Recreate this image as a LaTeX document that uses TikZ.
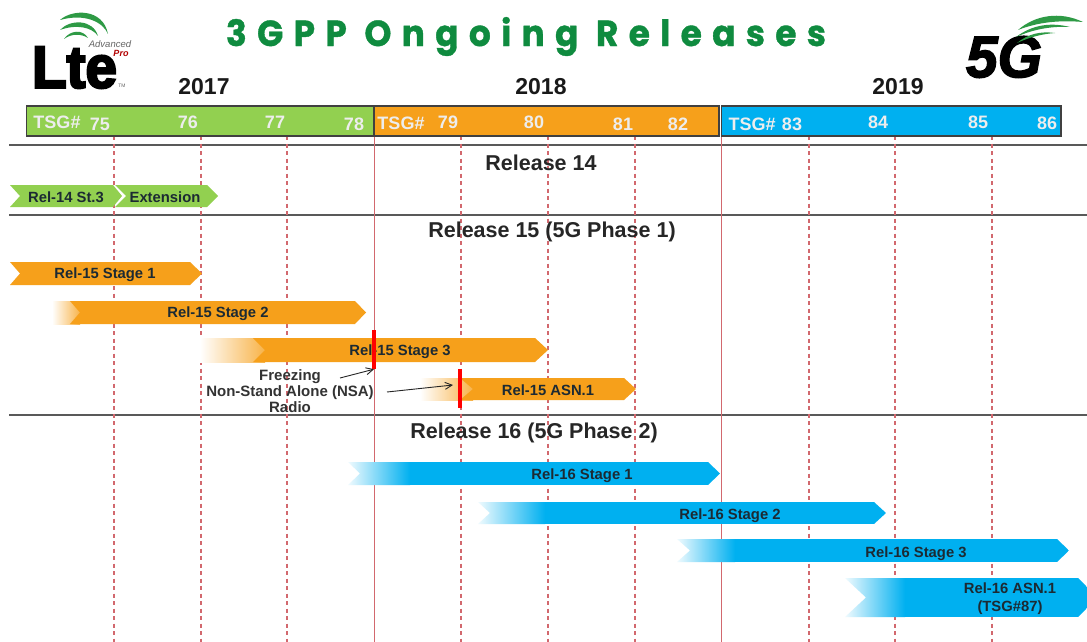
\documentclass[tikz,border=0pt]{standalone}
\usepackage{graphicx}
\usepackage{fontspec}
\setmainfont{Liberation Sans}
\newfontfamily\titlefont[LetterSpace=30,FakeBold=1]{Poppins}
\newfontfamily\logofont[FakeBold=4]{Liberation Sans}
\newfontfamily\fivegfont[FakeBold=2.5]{Liberation Sans}
\usetikzlibrary{arrows.meta}
\definecolor{cgreen}{HTML}{92D050}
\definecolor{corange}{HTML}{F6A01B}
\definecolor{cblue}{HTML}{00B0F0}
\definecolor{ctitle}{HTML}{0F8B3F}
\definecolor{clogo}{HTML}{2E9A45}
\definecolor{cline}{HTML}{D2686E}
\definecolor{ctext}{HTML}{1C2A33}
\newcommand{\chevron}[9]{%
 % #1 colour #2 fade start #3 left #4 notch #5 shoulder #6 tip #7 top #8 bottom #9 label
 \pgfmathsetmacro{\midy}{(#7+#8)/2}
 \ifdim #2pt<#3pt\relax
   \shade[left color=white,right color=#1!80!white,draw=none] (#2,#7) rectangle (#4,#8);
 \fi
 \fill[#1] (#3,#7) -- (#5,#7) -- (#6,\midy) -- (#5,#8) -- (#3,#8) -- (#4,\midy) -- cycle;
 \node[barlabel,align=center] at ({(#4+#5)/2},\midy) {#9};
}
\newcommand{\fadechevron}[8]{%
 % #1 colour #2 left #3 notch #4 gradient end #5 shoulder #6 tip #7 top #8 bottom
 \pgfmathsetmacro{\midy}{(#7+#8)/2}
 \begin{scope}
 \clip (#2,#7) -- (#5,#7) -- (#6,\midy) -- (#5,#8) -- (#2,#8) -- (#3,\midy) -- cycle;
 \shade[left color=#1!6!white,right color=#1,draw=none] (#2,#7) rectangle (#4,#8);
 \fill[#1] (#4,#7) rectangle (#6,#8);
 \end{scope}
}
\tikzset{
 yearlabel/.style={font=\bfseries\fontsize{23}{25}\selectfont,text=black!90,inner sep=0},
 headlabel/.style={font=\bfseries\fontsize{21.5}{23}\selectfont,text=black!85,inner sep=0,yshift=-1pt},
 tsg/.style={font=\bfseries\fontsize{18}{20}\selectfont,text=white!93!black,inner sep=0},
 barlabel/.style={font=\bfseries\fontsize{14.8}{18}\selectfont,text=ctext,inner sep=0,yshift=-1.5pt},
 headbar/.style={draw=black!75,line width=1.2pt},
 hrule/.style={draw=black!65,line width=1.1pt},
 solidv/.style={draw=cline,line width=1.8pt},
 dashv/.style={draw=cline,line width=1.1pt,dash pattern=on 4pt off 3.5pt},
 freezebar/.style={fill=red,draw=none,minimum width=4pt,minimum height=39pt,inner sep=0},
 note/.style={font=\bfseries\fontsize{15}{16}\selectfont,text=black!80,align=center,inner sep=0},
 notearrow/.style={draw=black!85,line width=0.9pt,-{Straight Barb[length=7pt,width=7pt]}},
}
\begin{document}
\begin{tikzpicture}[x=1pt,y=-1pt]
\useasboundingbox (0,0) rectangle (1087,642);
\fill[white] (0,0) rectangle (1087,642);
% rules and guides
\foreach \y in {145,215,415} \draw[hrule] (9,\y) -- (1087,\y);
\foreach \x in {114,201,287,461,548,635,809,895,992} \draw[dashv] (\x,136) -- (\x,642);
\foreach \x in {374.5,721.5} \draw[solidv] (\x,136) -- (\x,642);
% header bars
\draw[headbar,fill=cgreen] (26.5,106) rectangle (374,136);
\draw[headbar,fill=corange] (374.5,106) rectangle (719,136);
\draw[headbar,fill=cblue] (721.5,106) rectangle (1061,136);
\foreach \x/\y/\t in {57/122/TSG\#,100/124/75,188/122/76,275/122/77,354/124/78,
  401/123/TSG\#,448/122/79,534/122/80,623/124/81,678/124/82,
  752/124/TSG\#,792/124/83,878/122/84,978/122/85,1047/123/86}
  \node[tsg] at (\x,\y) {\t};
% years
\node[yearlabel] (y17) at (204,87) {2017};
\node[yearlabel] (y18) at (541,87) {2018};
\node[yearlabel] (y19) at (898,87) {2019};
% title
\node[inner sep=0,text=ctitle] (title) at (526,36.5) {\resizebox{600pt}{29pt}{\titlefont\bfseries\fontsize{29}{31}\selectfont 3GPP Ongoing Releases}};
% section headings
\node[headlabel] (r14) at (541,162) {Release 14};
\node[headlabel] (r15) at (552,231) {Release 15 (5G Phase 1)};
\node[headlabel] (r16) at (534,432) {Release 16 (5G Phase 2)};
% bars
\chevron{cgreen}{10}{10}{20}{113}{122}{185}{207}{}
\node[barlabel] at (66,196) {Rel-14 St.3};
\chevron{cgreen}{115}{115}{126}{207}{218}{185}{207}{}
\node[barlabel] at (165,196) {Extension};
\chevron{corange}{10}{10}{20}{190}{202}{262}{285}{}
\node[barlabel] at (105,273.5) {Rel-15 Stage 1};
\chevron{corange}{52}{70}{80}{355}{366}{301}{324}{}
\node[barlabel] at (218,312.5) {Rel-15 Stage 2};
\chevron{corange}{200}{253}{265}{535}{548}{338}{362}{}
\node[barlabel] at (400,350) {Rel-15 Stage 3};
\chevron{corange}{420}{460}{473}{624}{636}{378}{400}{}
\node[barlabel] at (548,389) {Rel-15 ASN.1};
\fadechevron{cblue}{348}{360}{410}{708}{720}{462}{485}
\node[barlabel] at (582,474) {Rel-16 Stage 1};
\fadechevron{cblue}{478}{490}{545}{874}{886}{502}{524}
\node[barlabel] at (730,514) {Rel-16 Stage 2};
\fadechevron{cblue}{677}{690}{735}{1057}{1069}{539}{562}
\node[barlabel] at (916,552) {Rel-16 Stage 3};
\fadechevron{cblue}{845}{866}{905}{1078}{1098}{578}{617}
\node[barlabel,align=center] at (1010,597.5) {Rel-16 ASN.1\\(TSG\#87)};
% freeze marks
\node[freezebar] (f1) at (374,349.5) {};
\node[freezebar] (f2) at (460,388.5) {};
\node[note] (fn) at (290,391) {Freezing\\Non-Stand Alone (NSA)\\Radio};
\coordinate (a1) at (340,378);
\coordinate (a2) at (387,392);
\coordinate (a3) at (453,385);
\draw[notearrow] (a1) -- (f1.south);
\draw[notearrow] (a2) -- (a3);
% LTE logo
\node[inner sep=0,text=black] (lte) at (74.5,67.5) {\resizebox{85pt}{41pt}{\logofont\bfseries Lte}};
\fill[clogo] (60,20) .. controls (72,9) and (103,8) .. (108,34) .. controls (103,22) and (85,13) .. (60,20) -- cycle;
\fill[clogo] (60,30) .. controls (70,19) and (93,19) .. (98,36) .. controls (92,27) and (76,24) .. (60,30) -- cycle;
\fill[clogo] (64,39) .. controls (70,30) and (83,29) .. (88,38) .. controls (82,34) and (72,33) .. (64,39) -- cycle;
\node[inner sep=0,text=black!60,font=\itshape\fontsize{9.5}{10}\selectfont] (adv) at (110,44) {Advanced};
\node[inner sep=0,text=red!70!black,font=\bfseries\itshape\fontsize{9}{10}\selectfont] (pro) at (121,53) {Pro};
\node[inner sep=0,text=black!60,font=\fontsize{5}{6}\selectfont] (tm) at (122,86) {TM};
% 5G logo
\node[inner sep=0,text=black] (fiveg) at (1004,57) {\resizebox{76pt}{41pt}{\fivegfont\bfseries\itshape 5G}};
\fill[clogo] (1018,30) .. controls (1035,15) and (1060,11) .. (1083,22) .. controls (1060,20) and (1038,22) .. (1018,30) -- cycle;
\fill[clogo] (1016,37) .. controls (1032,25) and (1050,22) .. (1070,27) .. controls (1052,26) and (1034,29) .. (1016,37) -- cycle;
\fill[clogo] (1017,43) .. controls (1028,34) and (1040,31) .. (1055,33) .. controls (1042,34) and (1030,37) .. (1017,43) -- cycle;
\end{tikzpicture}
\end{document}
